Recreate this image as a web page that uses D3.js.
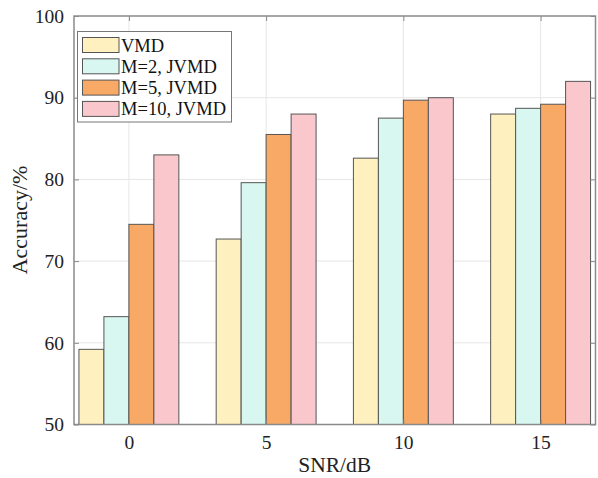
<!DOCTYPE html>
<html>
<head>
<meta charset="utf-8">
<script src="https://cdn.jsdelivr.net/npm/d3@7"></script>
<style>
  body { margin: 0; background: #fff; }
  svg { display: block; font-family: "Liberation Serif", "Times New Roman", serif; }
</style>
</head>
<body>
<svg id="chart" width="598" height="478"></svg>
<script>
// data
var snrLabels = ["0", "5", "10", "15"];
var seriesNames = ["VMD", "M=2, JVMD", "M=5, JVMD", "M=10, JVMD"];
var vmd  = [59.2, 72.7, 82.6, 88.0];
var m2   = [63.2, 79.6, 87.5, 88.7];
var m5   = [74.5, 85.5, 89.7, 89.2];
var m10  = [83.0, 88.0, 90.0, 92.0];
var yTicks = [50, 60, 70, 80, 90, 100];
var colors = ["#fff1bf", "#d9f7f1", "#f9a966", "#f9c7cc"];

var seriesValues = [vmd, m2, m5, m10];

var svg = d3.select("#chart");
// plot box (window.top is reserved, so no "top" here)
var plotL = 74, plotR = 595.5, plotT = 16, plotB = 424.5;
var axisGray = "#8a8a8a";

//#region SCALES
var x = d3.scaleLinear().domain([0.6, 4.4]).range([plotL, plotR]);
var y = d3.scaleLinear().domain([50, 100]).range([plotB, plotT]);
var unit = x(2) - x(1);
var groupW = 0.728 * unit;
var inner = d3.scaleBand().domain(d3.range(seriesNames.length)).range([-groupW / 2, groupW / 2]);

//#region GRID
var grid = svg.append("g").attr("class", "grid");
grid.selectAll("line.h").data(yTicks.slice(1, -1)).enter().append("line")
    .attr("x1", plotL).attr("x2", plotR)
    .attr("y1", d => y(d)).attr("y2", d => y(d))
    .style("stroke", "#e6e6e6").style("stroke-width", "1px");
grid.selectAll("line.v").data(snrLabels).enter().append("line")
    .attr("x1", (d, i) => x(i + 1)).attr("x2", (d, i) => x(i + 1))
    .attr("y1", plotT).attr("y2", plotB)
    .style("stroke", "#e6e6e6").style("stroke-width", "1px");

//#region BARS
seriesValues.forEach(function(vals, s) {
    svg.append("g").attr("class", "series" + s)
        .selectAll("rect").data(vals).enter().append("rect")
        .attr("x", (d, i) => x(i + 1) + inner(s))
        .attr("y", d => y(d))
        .attr("width", inner.bandwidth())
        .attr("height", d => y(50) - y(d))
        .style("fill", colors[s])
        .style("stroke", "#555")
        .style("stroke-width", "1px");
});

//#region AXES
var yAxisL = d3.axisLeft(y).tickValues(yTicks).tickSize(-5).tickPadding(10);
var yAxisR = d3.axisRight(y).tickValues(yTicks).tickSize(-5).tickFormat("");
var xAxisB = d3.axisBottom(x).tickValues([1, 2, 3, 4]).tickSize(-5).tickPadding(11)
    .tickFormat((d, i) => snrLabels[i]);
var xAxisT = d3.axisTop(x).tickValues([1, 2, 3, 4]).tickSize(-5).tickFormat("");

function styleAxis(sel) {
    sel.select(".domain").remove();
    sel.selectAll(".tick line").style("stroke", axisGray).style("stroke-width", "1px");
    sel.selectAll(".tick text").style("font-family", "Liberation Serif, serif")
        .style("font-size", "19.5px").style("fill", "#222");
}
svg.append("g").attr("transform", `translate(${plotL},0)`).call(yAxisL).call(styleAxis);
svg.append("g").attr("transform", `translate(${plotR},0)`).call(yAxisR).call(styleAxis);
svg.append("g").attr("transform", `translate(0,${plotB})`).call(xAxisB).call(styleAxis);
svg.append("g").attr("transform", `translate(0,${plotT})`).call(xAxisT).call(styleAxis);

svg.append("rect")
    .attr("x", plotL).attr("y", plotT)
    .attr("width", plotR - plotL).attr("height", plotB - plotT)
    .style("fill", "none").style("stroke", axisGray).style("stroke-width", "1.5px");

//#region LABELS
svg.append("text")
    .attr("x", (plotL + plotR) / 2).attr("y", 472)
    .attr("text-anchor", "middle")
    .style("font-size", "21.5px").style("fill", "#222")
    .text("SNR/dB");

svg.append("text")
    .attr("transform", "translate(27,220) rotate(-90)")
    .attr("text-anchor", "middle")
    .style("font-size", "22px").style("fill", "#222")
    .text("Accuracy/%");

//#region LEGEND
var legend = svg.append("g").attr("class", "legend");
legend.append("rect")
    .attr("x", 77.5).attr("y", 31.5).attr("width", 154).attr("height", 90.5)
    .style("fill", "#fff").style("stroke", "#777").style("stroke-width", "1px");
var rows = legend.selectAll("g.row").data(seriesNames).enter().append("g")
    .attr("transform", (d, i) => `translate(0,${37.5 + i * 21.3})`);
rows.append("rect")
    .attr("x", 82.5).attr("y", 0).attr("width", 36.5).attr("height", 15)
    .style("fill", (d, i) => colors[i]).style("stroke", "#555").style("stroke-width", "1px");
rows.append("text")
    .attr("x", 121).attr("y", 14)
    .style("font-size", "18.5px").style("fill", "#111")
    .text(d => d);
</script>
</body>
</html>
